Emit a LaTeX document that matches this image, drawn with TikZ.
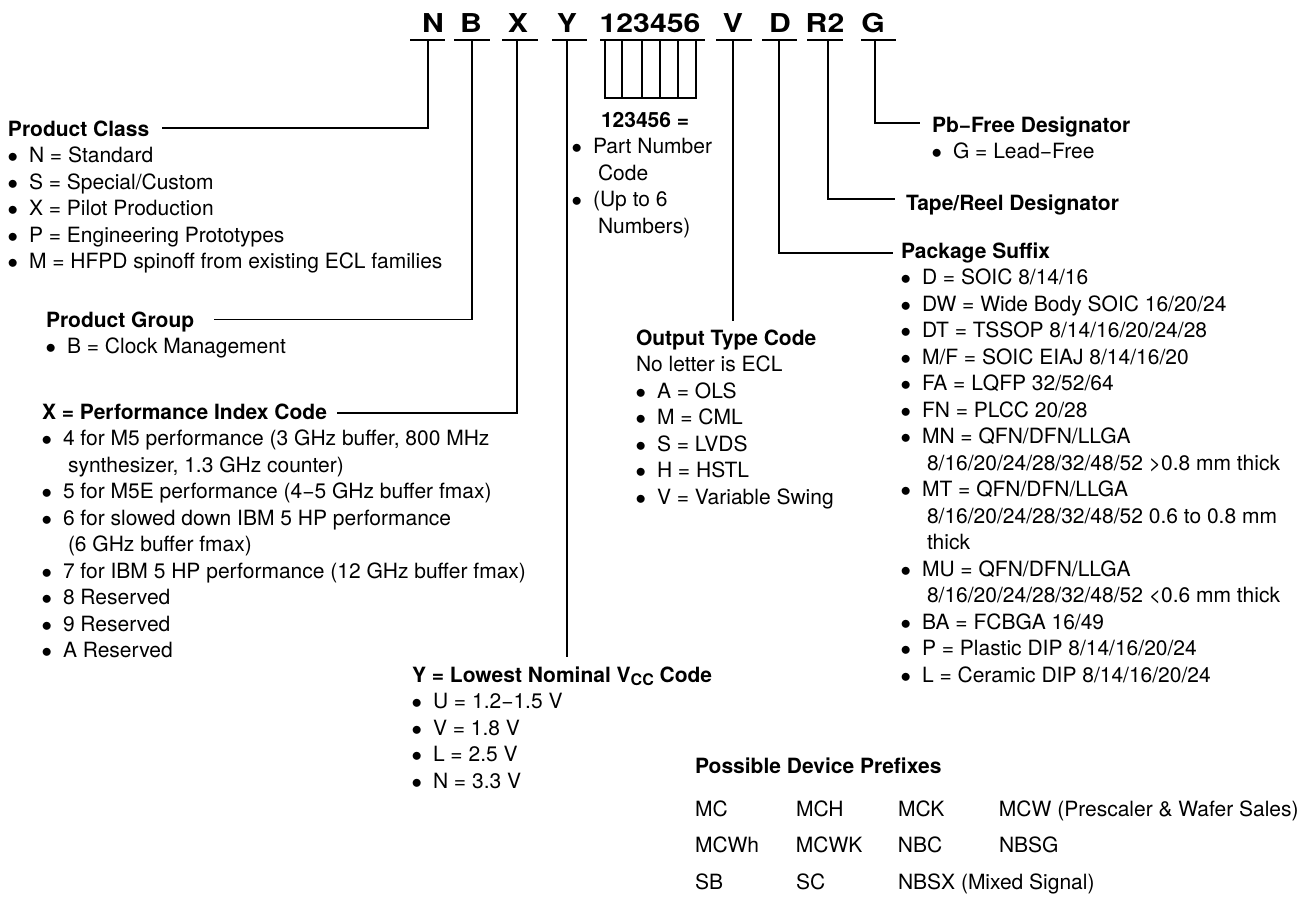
\documentclass[tikz,border=0pt]{standalone}
\usepackage{fontspec}
\setmainfont{TeX Gyre Heros}
\usepackage{graphicx}
\newcommand\bul{\makebox[21pt][l]{\hspace{-0.5pt}$\bullet$}}
\newcommand\cont{\hspace*{26pt}}
\newcommand\fl{\rule{0pt}{18pt}}
\begin{document}
\begin{tikzpicture}[x=1pt,y=-1pt,
  conn/.style={line width=1.4pt},
  body/.style={inner sep=0pt, outer sep=0pt, anchor=north west, align=left, font=\fontsize{21}{26.5}\selectfont},
  single/.style={inner sep=0pt, outer sep=0pt, anchor=base west, font=\fontsize{21}{26.5}\selectfont\bfseries},
  hdr/.style={inner sep=0pt, outer sep=0pt, anchor=base, font=\fontsize{26}{26}\selectfont\bfseries}]
\useasboundingbox (0,0) rectangle (1316,898);

% header letters
\node[hdr] (hN) at (433,32) {\scalebox{1.16}[1]{N}};
\node[hdr] (hB) at (471,32) {\scalebox{1.16}[1]{B}};
\node[hdr] (hX) at (518,32) {\scalebox{1.16}[1]{X}};
\node[hdr] (hY) at (567,32) {\scalebox{1.16}[1]{Y}};
\node[hdr] (hP) at (650,32) {\scalebox{1.16}[1]{123456}};
\node[hdr] (hV) at (733,32) {\scalebox{1.16}[1]{V}};
\node[hdr] (hD) at (780,32) {\scalebox{1.16}[1]{D}};
\node[hdr] (hR) at (825,32) {\scalebox{1.16}[1]{R2}};
\node[hdr] (hG) at (873,32) {\scalebox{1.16}[1]{G}};

% underlines
\draw[conn] (410,40) -- (445,40);
\draw[conn] (454,40) -- (490,40);
\draw[conn] (502,40) -- (538,40);
\draw[conn] (552,40) -- (587,40);
\draw[conn] (600,40) -- (705,40);
\draw[conn] (716,40) -- (752,40);
\draw[conn] (762,40) -- (797,40);
\draw[conn] (807,40) -- (843,40);
\draw[conn] (861,40) -- (896,40);

% connector coordinates
\coordinate (tN) at (428,40);
\coordinate (tB) at (472,40);
\coordinate (tX) at (517,40);
\coordinate (tY) at (567,40);
\coordinate (tV) at (733,40);
\coordinate (tD) at (779,40);
\coordinate (tR) at (828,40);
\coordinate (tG) at (875,40);
\coordinate (ePC) at (162,128);
\coordinate (ePG) at (214,319.5);
\coordinate (eXC) at (337,413);
\coordinate (eY) at (567,657);
\coordinate (eV) at (733,321);
\coordinate (eD) at (893,253);
\coordinate (eR) at (895,199);
\coordinate (eG) at (920,123);

% part number box
\draw[conn] (605,40) -- (605,98) -- (696,98) -- (696,40);
\foreach \xx in {622,642,660,678} \draw[conn] (\xx,40) -- (\xx,98);

% connectors
\draw[conn] (tN) |- (ePC);
\draw[conn] (tB) |- (ePG);
\draw[conn] (tX) |- (eXC);
\draw[conn] (tY) -- (eY);
\draw[conn] (tV) -- (eV);
\draw[conn] (tD) |- (eD);
\draw[conn] (tR) |- (eR);
\draw[conn] (tG) |- (eG);

% text blocks
\node[body] (pc) at (8,118) {\fl\textbf{Product Class}\\
\bul N = Standard\\
\bul S = Special/Custom\\
\bul X = Pilot Production\\
\bul P = Engineering Prototypes\\
\bul M = HFPD spinoff from existing ECL families};

\node[body] (pg) at (46,309) {\fl\textbf{Product Group}\\
\bul B = Clock Management};

\node[body] (xc) at (42,401) {\fl\textbf{X = Performance Index Code}\\
\bul 4 for M5 performance (3 GHz buffer, 800 MHz\\
\cont synthesizer, 1.3 GHz counter)\\
\bul 5 for M5E performance (4−5 GHz buffer fmax)\\
\bul 6 for slowed down IBM 5 HP performance\\
\cont (6 GHz buffer fmax)\\
\bul 7 for IBM 5 HP performance (12 GHz buffer fmax)\\
\bul 8 Reserved\\
\bul 9 Reserved\\
\bul A Reserved};

\node[body] (pn) at (572,109) {\fl\hspace*{29pt}\textbf{123456 =}\\
\bul Part Number\\
\cont Code\\
\bul (Up to 6\\
\cont Numbers)};

\node[body] (ot) at (636,327) {\fl\textbf{Output Type Code}\\
No letter is ECL\\
\bul A = OLS\\
\bul M = CML\\
\bul S = LVDS\\
\bul H = HSTL\\
\bul V = Variable Swing};

\node[body] (pb) at (932,114) {\fl\textbf{Pb−Free Designator}\\
\bul G = Lead−Free};

\node[single] (tr) at (906,210) {Tape/Reel Designator};

\node[body] (ps) at (901,240) {\fl\textbf{Package Suffix}\\
\bul D = SOIC 8/14/16\\
\bul DW = Wide Body SOIC 16/20/24\\
\bul DT = TSSOP 8/14/16/20/24/28\\
\bul M/F = SOIC EIAJ 8/14/16/20\\
\bul FA = LQFP 32/52/64\\
\bul FN = PLCC 20/28\\
\bul MN = QFN/DFN/LLGA\\
\cont 8/16/20/24/28/32/48/52 >0.8 mm thick\\
\bul MT = QFN/DFN/LLGA\\
\cont 8/16/20/24/28/32/48/52 0.6 to 0.8 mm\\
\cont thick\\
\bul MU = QFN/DFN/LLGA\\
\cont 8/16/20/24/28/32/48/52 <0.6 mm thick\\
\bul BA = FCBGA 16/49\\
\bul P = Plastic DIP 8/14/16/20/24\\
\bul L = Ceramic DIP 8/14/16/20/24};

\node[body] (yc) at (412,664) {\fl\textbf{Y = Lowest Nominal V\raisebox{-3.5pt}{\fontsize{16}{16}\selectfont CC} Code}\\
\bul U = 1.2−1.5 V\\
\bul V = 1.8 V\\
\bul L = 2.5 V\\
\bul N = 3.3 V};

\node[single] (pdh) at (695,773) {Possible Device Prefixes};

\node[body, font=\fontsize{21}{36.5}\selectfont] (pdt) at (695,798) {\fl\makebox[101pt][l]{MC}\makebox[102pt][l]{MCH}\makebox[101pt][l]{MCK}MCW (Prescaler \& Wafer Sales)\\
\makebox[101pt][l]{MCWh}\makebox[102pt][l]{MCWK}\makebox[101pt][l]{NBC}NBSG\\
\makebox[101pt][l]{SB}\makebox[102pt][l]{SC}NBSX (Mixed Signal)};
\end{tikzpicture}
\end{document}
